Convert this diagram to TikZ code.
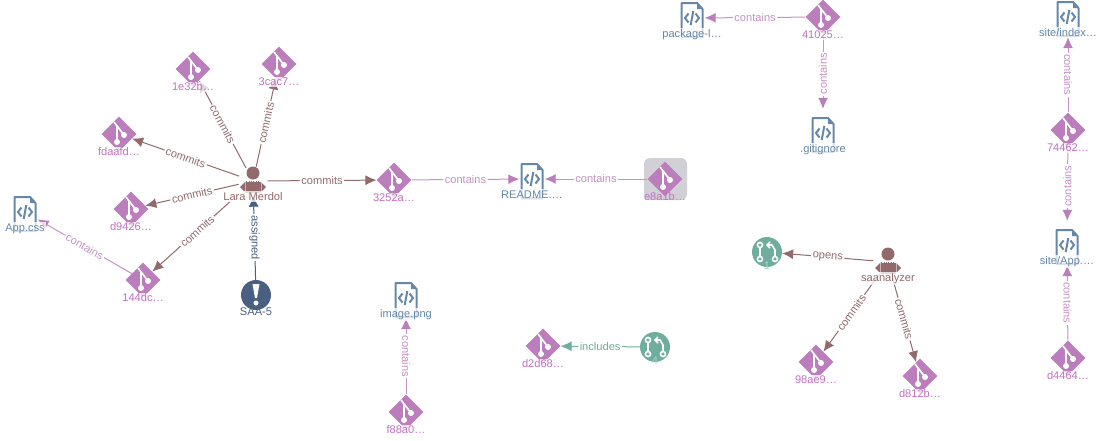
\documentclass[tikz,border=0pt]{standalone}
\usepackage{fontspec}
\setmainfont{Liberation Sans}
\usetikzlibrary{arrows.meta, shapes.geometric, backgrounds}

\definecolor{gitpink}{RGB}{187, 125, 187}
\definecolor{gitline}{RGB}{198, 145, 200}
\definecolor{filblue}{RGB}{101, 135, 168}
\definecolor{usrbrown}{RGB}{147, 106, 108}
\definecolor{issueblue}{RGB}{74, 96, 128}
\definecolor{prgreen}{RGB}{111, 174, 159}
\definecolor{hilite}{RGB}{208, 208, 214}

\newcommand{\gitmark}{
  \begin{scope}[shift={(path picture bounding box.center)}]
    \draw[white, line width=1.7pt] (-5,-12) -- (5,1) (-2,-8) -- (-2,8);
    \fill[white] (-2,8) circle (3pt) (5,1) circle (3pt);
  \end{scope}}
\newcommand{\filemark}{
  \begin{scope}[shift={(path picture bounding box.center)}]
    \draw[filblue, line width=2pt, line join=round] (-10.5,19) -- (-10.5,-15) -- (5,-15) -- (10.5,-9) -- (10.5,19) -- cycle;
    \fill[filblue] (5,-15) -- (10.5,-9) -- (5,-9) -- cycle;
    \draw[filblue, line width=2pt] (-3.5,-4.5) -- (-7,0) -- (-3.5,4.5) (3.5,-4.5) -- (7,0) -- (3.5,4.5);
    \draw[filblue, line width=2pt] (1.3,-7) -- (-1.3,7);
  \end{scope}}
\newcommand{\usermark}{
  \begin{scope}[shift={(path picture bounding box.center)}]
    \fill[usrbrown] (0,-8) circle (6.5pt);
    \fill[usrbrown] (-7,0) -- (7,0) -- (13,6) -- (7,12) -- (-7,12) -- (-13,6) -- cycle;
    \draw[white, opacity=.5, line width=.7pt] (-8,1) -- (-8,12) (8,1) -- (8,12);
    \draw[white, densely dotted, line width=.7pt] (-8,0) -- (8,0);
  \end{scope}}
\newcommand{\issuemark}{
  \begin{scope}[shift={(path picture bounding box.center)}]
    \fill[white] (-3.5,-11) -- (3.5,-11) -- (1,3) -- (-1,3) -- cycle;
    \fill[white] (0,8) circle (2.5pt);
  \end{scope}}
\newcommand{\prmark}{
  \begin{scope}[shift={(path picture bounding box.center)}]
    \draw[white, line width=1.6pt] (-7,-7) -- (-7,7) (8,7) -- (8,-2) -- (5,-7) -- (0,-7);
    \draw[white, line width=1.6pt] (3,-10) -- (0,-7) -- (3,-4);
    \draw[white, fill=prgreen, line width=1.6pt] (-7,-7) circle (2.5pt) (-7,7) circle (2.5pt) (8,7) circle (2.5pt);
  \end{scope}}

\begin{document}
\begin{tikzpicture}[
  x=1pt, y=-1pt,
  every node/.style={font=\fontsize{11.1}{12}\selectfont},
  nodelbl/.style={inner sep=1pt, fill=white, fill opacity=.75, text opacity=1},
  commitbase/.style={diamond, aspect=1, fill=gitpink, minimum size=35pt, inner sep=0pt, path picture={\gitmark}},
  commitnode/.style={commitbase,
    label={[nodelbl, text=gitpink!90!magenta, label distance=-5pt]below:#1}},
  commitsel/.style={commitbase,
    label={[inner sep=1pt, text=gitpink!90!magenta, label distance=-5pt]below:#1}},
  filenode/.style={rectangle, minimum width=25pt, minimum height=40pt, inner sep=0pt, path picture={\filemark},
    label={[nodelbl, text=filblue, label distance=-10pt]below:#1}},
  usernode/.style={circle, minimum size=29pt, inner sep=0pt, path picture={\usermark},
    label={[nodelbl, text=usrbrown, label distance=-4.5pt]below:#1}},
  issuenode/.style={circle, fill=issueblue, minimum size=30pt, inner sep=0pt, path picture={\issuemark},
    label={[nodelbl, text=issueblue, fill=none, label distance=-4pt]below:#1}},
  prnode/.style={circle, fill=prgreen, minimum size=30pt, inner sep=0pt, path picture={\prmark},
    label={[inner sep=1pt, text=prgreen!55!white, label distance=-6.5pt]below:#1}},
  link/.style={-{Latex[length=11pt, width=10pt]}, line width=1pt},
  commits/.style={link, usrbrown},
  contains/.style={link, gitline, -{Latex[length=11pt, width=10pt, color=gitpink]}},
  edgelbl/.style={fill=white, inner sep=1.5pt, pos=.5},
]
\useasboundingbox (0,0) rectangle (1101,440);

% Lara Merdol and her commits
\node[usernode=Lara Merdol] (lara) at (253,181) {};
\node[commitnode=1e32b…] (c1e32b) at (193,69) {};
\node[commitnode=3cac7…] (c3cac7) at (279,64) {};
\node[commitnode=fdaafd…] (cfdaafd) at (119,134) {};
\node[commitnode=d9426…] (cd9426) at (131,209) {};
\node[commitnode=144dc…] (c144dc) at (143,280) {};
\node[commitnode=3252a…] (c3252a) at (394,180) {};
\node[filenode=App.css] (appcss) at (25,212) {};
\node[issuenode=SAA-5] (saa) at (256,295) {};

% README
\node[filenode=README.…] (readme) at (532,179) {};
\node[commitsel=e8a1b…] (ce8a1b) at (665,179) {};

% image.png
\node[filenode=image.png] (imagepng) at (406,298) {};
\node[commitnode=f88a0…] (cf88a0) at (406,412) {};

% Pull request 4
\node[commitnode=d2d68…] (cd2d68) at (543,346) {};
\node[prnode=4] (prfour) at (655,347) {};

% Upper middle
\node[commitnode=41025…] (c41025) at (823,17) {};
\node[filenode=package-l…] (packagel) at (692,18) {};
\node[filenode=.gitignore] (gitignore) at (823,133) {};

% saanalyzer
\node[usernode=saanalyzer] (saan) at (888,262) {};
\node[prnode=1] (prone) at (767,252) {};
\node[commitnode=98ae9…] (c98ae9) at (816,362) {};
\node[commitnode=d812b…] (cd812b) at (920,376) {};

% Right column
\node[filenode=site/index…] (siteindex) at (1068,17) {};
\node[commitnode=74462…] (c74462) at (1068,130) {};
\node[filenode=site/App.…] (siteapp) at (1067,245) {};
\node[commitnode=d4464…] (cd4464) at (1068,358) {};

\begin{scope}[on background layer]
\node[rounded corners=6pt, fill=hilite, minimum width=43pt, minimum height=42pt, inner sep=0pt] (selbox) at (665.5,179) {};

\draw[commits] (lara) -- node[edgelbl, sloped] {commits} (c1e32b);
\draw[commits] (lara) -- node[edgelbl, sloped] {commits} (c3cac7);
\draw[commits] (lara) -- node[edgelbl, sloped] {commits} (cfdaafd);
\draw[commits] (lara) -- node[edgelbl, sloped] {commits} (cd9426);
\draw[commits, shorten <=16pt] (lara) -- node[edgelbl, sloped] {commits} (c144dc);
\draw[commits] (lara) -- node[edgelbl, sloped] {commits} (c3252a);
\draw[link, issueblue] (saa) -- node[edgelbl, rotate=-90] {assigned} (lara);
\draw[contains] (c144dc) -- node[edgelbl, sloped] {contains} (appcss);
\draw[contains] (c3252a) -- node[edgelbl, sloped] {contains} (readme);
\draw[contains] (ce8a1b) -- node[edgelbl, sloped] {contains} (readme);
\draw[contains] (cf88a0) -- node[edgelbl, rotate=-90] {contains} (imagepng);
\draw[link, prgreen] (prfour) -- node[edgelbl, sloped] {includes} (cd2d68);
\draw[contains] (c41025) -- node[edgelbl, sloped] {contains} (packagel);
\draw[contains, shorten >=4pt] (c41025) -- node[edgelbl, rotate=90] {contains} (gitignore);
\draw[commits] (saan) -- node[edgelbl, sloped] {opens} (prone);
\draw[commits] (saan) -- node[edgelbl, sloped] {commits} (c98ae9);
\draw[commits] (saan) -- node[edgelbl, sloped] {commits} (cd812b);
\draw[contains] (c74462) -- node[edgelbl, rotate=-90] {contains} (siteindex);
\draw[contains, shorten >=4pt] (c74462) -- node[edgelbl, rotate=90] {contains} (siteapp);
\draw[contains] (cd4464) -- node[edgelbl, rotate=-90] {contains} (siteapp);
\end{scope}
\end{tikzpicture}
\end{document}
